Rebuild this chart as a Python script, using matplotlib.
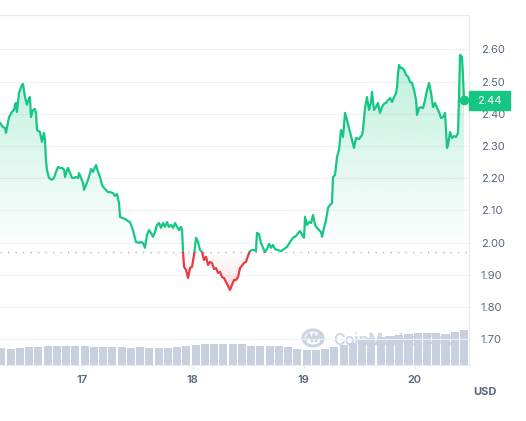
import numpy as np
import matplotlib
matplotlib.use("Agg")
import matplotlib.pyplot as plt
from matplotlib.patches import Rectangle, Circle
from matplotlib.path import Path
import matplotlib.transforms as mtransforms

plt.rcParams['font.family'] = ['Inter', 'DejaVu Sans']

# ---------------- data ----------------
times = [16.264, 16.291, 16.309, 16.318, 16.345, 16.372, 16.390, 16.399, 16.408, 16.417,
         16.435, 16.462, 16.471, 16.489, 16.507, 16.525, 16.534, 16.543, 16.561, 16.579,
         16.588, 16.597, 16.624, 16.642, 16.660, 16.669, 16.678, 16.687, 16.705, 16.732,
         16.750, 16.769, 16.787, 16.805, 16.823, 16.841, 16.850, 16.868, 16.877, 16.895,
         16.913, 16.931, 16.949, 16.967, 16.976, 16.994, 17.012, 17.021, 17.039, 17.057,
         17.075, 17.084, 17.102, 17.120, 17.129, 17.147, 17.165, 17.183, 17.201, 17.219,
         17.237, 17.255, 17.282, 17.300, 17.318, 17.336, 17.345, 17.363, 17.390, 17.417,
         17.435, 17.462, 17.489, 17.516, 17.534, 17.552, 17.570, 17.588, 17.606, 17.624,
         17.642, 17.660, 17.678, 17.696, 17.714, 17.732, 17.750, 17.768, 17.786, 17.805,
         17.823, 17.841, 17.859, 17.877, 17.895, 17.904, 17.913, 17.922, 17.940, 17.958,
         17.976, 17.994, 18.012, 18.030, 18.048, 18.066, 18.084, 18.102, 18.120, 18.138,
         18.156, 18.174, 18.192, 18.210, 18.228, 18.246, 18.264, 18.282, 18.300, 18.318,
         18.336, 18.354, 18.372, 18.390, 18.408, 18.426, 18.444, 18.462, 18.480, 18.498,
         18.516, 18.534, 18.552, 18.570, 18.579, 18.597, 18.615, 18.633, 18.651, 18.669,
         18.687, 18.705, 18.723, 18.741, 18.768, 18.796, 18.823, 18.850, 18.877, 18.904,
         18.931, 18.958, 18.967, 18.985, 19.003, 19.012, 19.030, 19.048, 19.066, 19.084,
         19.102, 19.120, 19.138, 19.156, 19.165, 19.183, 19.201, 19.219, 19.237, 19.255,
         19.264, 19.282, 19.300, 19.318, 19.336, 19.354, 19.372, 19.390, 19.417, 19.435,
         19.453, 19.471, 19.498, 19.525, 19.534, 19.552, 19.570, 19.588, 19.606, 19.615,
         19.633, 19.651, 19.669, 19.687, 19.705, 19.723, 19.741, 19.760, 19.778, 19.796,
         19.814, 19.832, 19.841, 19.850, 19.859, 19.868, 19.886, 19.904, 19.922, 19.940,
         19.958, 19.976, 19.994, 20.012, 20.021, 20.039, 20.057, 20.075, 20.093, 20.111,
         20.129, 20.147, 20.165, 20.183, 20.201, 20.219, 20.237, 20.255, 20.273, 20.291,
         20.300, 20.318, 20.336, 20.354, 20.372, 20.390, 20.399, 20.408, 20.426, 20.435,
         20.444]

prices = [2.372, 2.359, 2.356, 2.341, 2.390, 2.406, 2.412, 2.428, 2.434, 2.406,
          2.465, 2.490, 2.493, 2.452, 2.428, 2.449, 2.452, 2.390, 2.412, 2.415,
          2.403, 2.350, 2.344, 2.313, 2.341, 2.319, 2.257, 2.226, 2.201, 2.195,
          2.201, 2.220, 2.235, 2.232, 2.232, 2.226, 2.204, 2.226, 2.232, 2.216,
          2.201, 2.201, 2.204, 2.201, 2.216, 2.201, 2.185, 2.164, 2.179, 2.195,
          2.216, 2.229, 2.220, 2.235, 2.241, 2.220, 2.204, 2.179, 2.170, 2.164,
          2.157, 2.157, 2.154, 2.145, 2.151, 2.123, 2.080, 2.077, 2.074, 2.067,
          2.064, 2.039, 2.002, 1.999, 2.002, 1.999, 1.984, 2.024, 2.039, 2.030,
          2.018, 2.033, 2.055, 2.061, 2.046, 2.061, 2.049, 2.064, 2.049, 2.055,
          2.046, 2.061, 2.049, 2.039, 2.049, 2.039, 1.971, 1.925, 1.915, 1.890,
          1.921, 1.925, 1.962, 2.015, 2.002, 1.977, 1.971, 1.946, 1.956, 1.931,
          1.940, 1.937, 1.918, 1.921, 1.906, 1.909, 1.893, 1.890, 1.878, 1.866,
          1.853, 1.869, 1.884, 1.884, 1.893, 1.921, 1.928, 1.937, 1.940, 1.959,
          1.974, 1.977, 1.977, 1.974, 2.030, 2.027, 1.999, 1.984, 1.971, 1.980,
          1.996, 1.984, 1.993, 1.980, 1.977, 1.974, 1.980, 1.987, 2.002, 2.015,
          2.021, 2.033, 2.036, 2.024, 2.015, 2.080, 2.055, 2.064, 2.061, 2.086,
          2.055, 2.046, 2.039, 2.033, 2.018, 2.046, 2.070, 2.108, 2.117, 2.123,
          2.204, 2.210, 2.266, 2.288, 2.350, 2.328, 2.403, 2.381, 2.344, 2.319,
          2.294, 2.325, 2.322, 2.334, 2.350, 2.418, 2.452, 2.412, 2.437, 2.468,
          2.412, 2.421, 2.434, 2.403, 2.421, 2.431, 2.434, 2.443, 2.449, 2.437,
          2.452, 2.465, 2.484, 2.527, 2.552, 2.543, 2.543, 2.536, 2.521, 2.515,
          2.499, 2.496, 2.474, 2.443, 2.397, 2.418, 2.421, 2.418, 2.443, 2.474,
          2.496, 2.465, 2.421, 2.434, 2.418, 2.406, 2.387, 2.390, 2.403, 2.294,
          2.303, 2.344, 2.325, 2.331, 2.328, 2.341, 2.452, 2.583, 2.577, 2.515,
          2.443]

# 2-hour volume bars (relative heights)
vol_start = 16.2767
vol_step = 1 / 12
volumes = [17, 16, 17, 18, 18, 19, 19, 19, 19, 19, 18, 18, 18, 18, 17, 18, 17.5, 17, 17, 18,
           19.3, 20, 20.7, 20.7, 21, 21, 21, 19, 19, 19, 19, 17.7, 15.7, 15, 15, 16, 18.3, 20,
           22.3, 25, 26.7, 28.3, 29, 30, 31, 31.7, 32.3, 32.3, 31, 33, 35]

open_price = 1.972
last_price_label = "2.44"
xtick_vals = [17, 18, 19, 20]
xtick_labels = ["17", "18", "19", "20"]
ytick_vals = [1.70, 1.80, 1.90, 2.00, 2.10, 2.20, 2.30, 2.40, 2.50, 2.60]

# ---------------- styling ----------------
GREEN = "#16c784"
RED = "#ea3943"
GRID = "#eff2f5"
TEXT = "#58667e"
BAR = "#c8cfde"

t = np.array(times)
p = np.array(prices)
XMIN, XMAX = 16.264, 20.489
YMIN, YMAX = 1.620, 2.707

fig = plt.figure(figsize=(5.26, 4.21), dpi=100)
rect = [0, 1 - 365 / 421, 469 / 526, 350 / 421]

# volume axes (behind)
axv = fig.add_axes(rect, zorder=1)
axv.set_xlim(XMIN, XMAX)
axv.set_ylim(0, 350)
axv.axis("off")

# watermark
wm_color = "#cdd4e1"
fig.text(333 / 526, 1 - 340 / 421, "CoinMarketCap", color=wm_color, fontsize=11.5,
         fontweight="semibold", ha="left", va="center", zorder=0)
logo = Circle((313 / 526, 1 - 338 / 421), 10 / 526, transform=fig.transFigure,
              fill=False, lw=2.2, ec=wm_color, zorder=0)
fig.patches.append(logo)
wx = np.array([305, 309, 312, 314, 316, 319, 322]) / 526
wy = 1 - np.array([342, 334, 341, 334, 341, 334, 342]) / 421
fig.lines.append(plt.Line2D(wx, wy, transform=fig.transFigure, color=wm_color, lw=2, zorder=0))

vt = vol_start + np.arange(len(volumes)) * vol_step
axv.bar(vt, volumes, width=vol_step * 0.88, color=BAR, align="center", zorder=2)

# main axes
ax = fig.add_axes(rect, zorder=2)
ax.patch.set_alpha(0)
ax.set_xlim(XMIN, XMAX)
ax.set_ylim(YMIN, YMAX)

for v in ytick_vals:
    ax.axhline(v, color=GRID, lw=0.8, zorder=0.5)

# gradient fills clipped to area between price and open price
verts = np.concatenate([np.column_stack([t, p]),
                        np.column_stack([t[::-1], np.full(len(t), open_price)])])
area = Path(verts)

n = 256
g = np.zeros((n, 1, 4))
g[..., :3] = matplotlib.colors.to_rgb(GREEN)
g[:, 0, 3] = np.linspace(0.0, 0.30, n)
im_g = ax.imshow(g, extent=[XMIN, XMAX, open_price, 2.62], origin="lower",
                 aspect="auto", zorder=1, interpolation="bilinear")
im_g.set_clip_path(area, ax.transData)

r = np.zeros((n, 1, 4))
r[..., :3] = matplotlib.colors.to_rgb(RED)
r[:, 0, 3] = np.linspace(0.16, 0.0, n)
im_r = ax.imshow(r, extent=[XMIN, XMAX, 1.85, open_price], origin="lower",
                 aspect="auto", zorder=1, interpolation="bilinear")
im_r.set_clip_path(area, ax.transData)
ax.set_xlim(XMIN, XMAX)
ax.set_ylim(YMIN, YMAX)

# baseline
ax.axhline(open_price, color="#a1a8b6", lw=0.9, ls=(0, (1, 5)), zorder=1.5)

# price line split at open price
clip_up = Rectangle((XMIN, open_price), XMAX - XMIN, 5, transform=ax.transData)
clip_dn = Rectangle((XMIN, open_price - 5), XMAX - XMIN, 5, transform=ax.transData)
lg, = ax.plot(t, p, color=GREEN, lw=1.6, zorder=3, solid_joinstyle="round")
lg.set_clip_path(clip_up)
lr, = ax.plot(t, p, color=RED, lw=1.6, zorder=3, solid_joinstyle="round")
lr.set_clip_path(clip_dn)
ax.plot([t[-1]], [p[-1]], "o", ms=6, color=GREEN, zorder=4, clip_on=False)

# axes styling
for s in ["left"]:
    ax.spines[s].set_visible(False)
for s in ["top", "right", "bottom"]:
    ax.spines[s].set_color("#e8ecf1")
    ax.spines[s].set_linewidth(0.9)

ax.yaxis.tick_right()
ax.set_yticks(ytick_vals)
ax.set_yticklabels([f"{v:.2f}" for v in ytick_vals])
ax.tick_params(axis="y", length=0, pad=8.5, labelsize=8, labelcolor=TEXT)
ax.set_xticks(xtick_vals)
ax.set_xticklabels(xtick_labels, fontweight="semibold")
ax.tick_params(axis="x", length=3, width=0.8, color="#e8ecf1", pad=4.5,
               labelsize=8, labelcolor=TEXT)

# current price tag
bt = mtransforms.blended_transform_factory(ax.transAxes, ax.transData)
h = 9.5 / 322
w = 41 / 469
lp = float(last_price_label)
ax.add_patch(Rectangle((1.0, lp - h), w, 2 * h, transform=bt, color=GREEN,
                       clip_on=False, zorder=10))
ax.text(1.0 + w / 2, lp, last_price_label, transform=bt, color="white", fontsize=8,
        ha="center", va="center", zorder=11, clip_on=False)

fig.text(485 / 526, 1 - 392 / 421, "USD", color=TEXT, fontsize=8,
         fontweight="bold", ha="center", va="center")

fig.savefig("out.png", dpi=100, facecolor="white")
